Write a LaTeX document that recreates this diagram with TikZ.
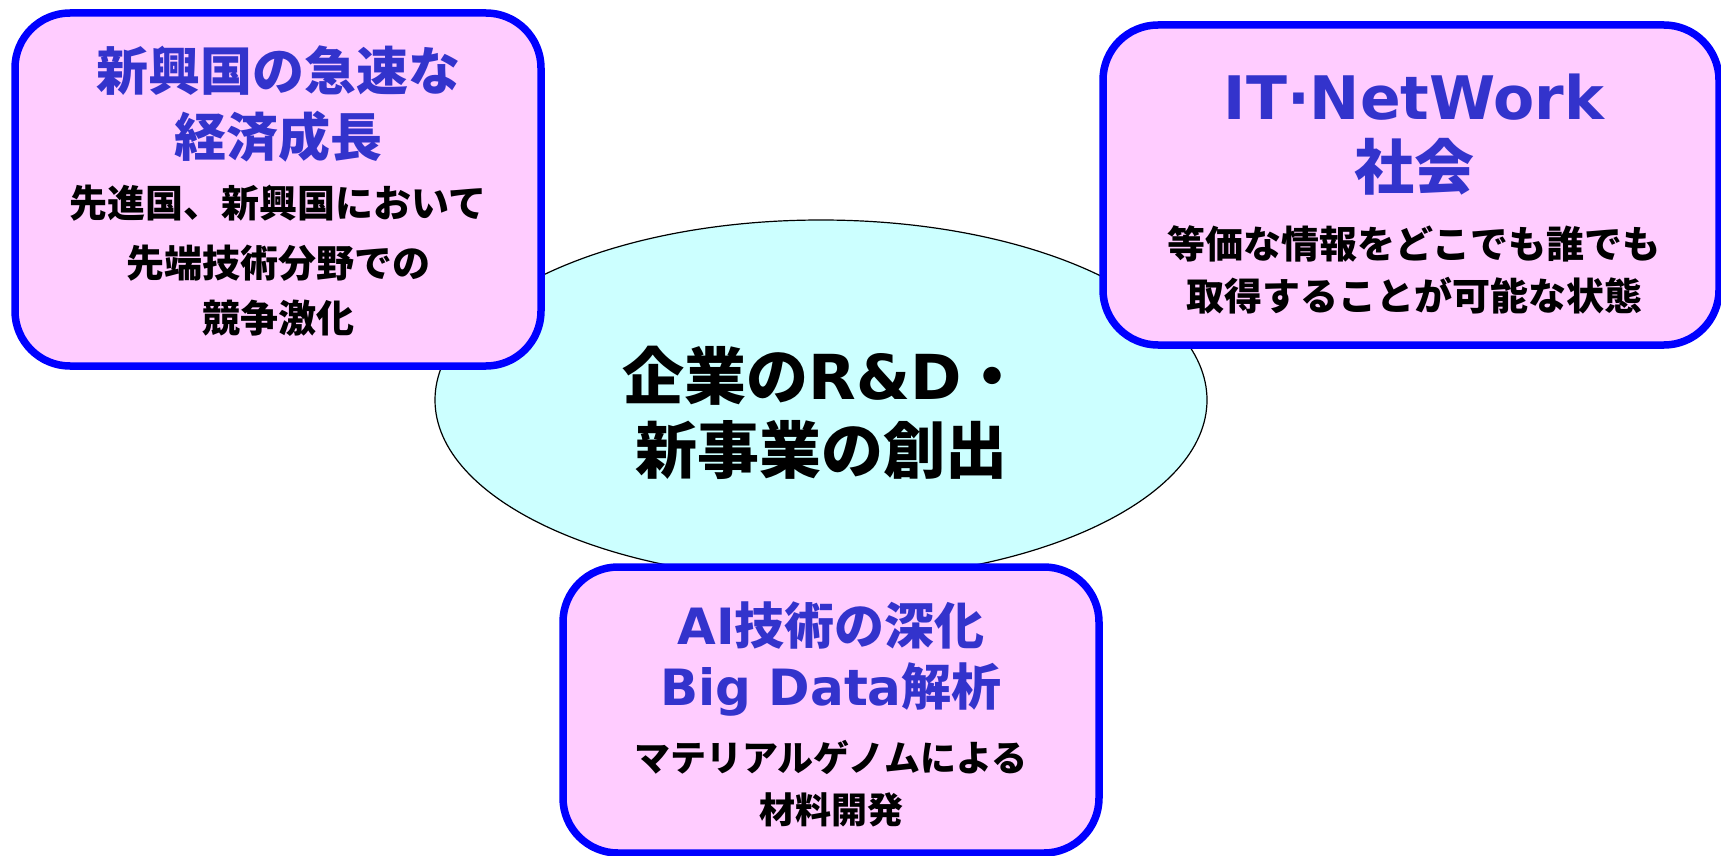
\documentclass[tikz,border=0pt]{standalone}
\usepackage{fontspec}
\setmainfont{Noto Sans CJK JP}
\newfontfamily\latin{DejaVu Sans}
\usetikzlibrary{shapes.geometric}
\definecolor{boxfill}{RGB}{255,204,255}
\definecolor{boxline}{RGB}{0,0,255}
\definecolor{titleblue}{RGB}{51,51,204}
\definecolor{coreFill}{RGB}{204,255,255}
\tikzset{
  panel/.style={draw=boxline, line width=7.5pt, fill=boxfill, rounded corners=55pt},
  core/.style={ellipse, draw=black, line width=1.2pt, fill=coreFill, inner sep=0pt},
  ttl/.style={text=titleblue, inner sep=0pt, font=\bfseries\fontsize{#1}{#1}\selectfont},
  ttl/.default=52,
  body/.style={text=black, inner sep=0pt, font=\bfseries\fontsize{#1}{#1}\selectfont},
  body/.default=38,
}
\begin{document}
\begin{tikzpicture}[x=1pt,y=-1pt]
\useasboundingbox (0,0) rectangle (1721,856);

% central theme
\node[core, minimum width=772pt, minimum height=360pt] (center) at (821,400) {};
\node[body=62] (c1) at (823,376) {企業の{\latin R\&D}・};
\node[body=62] (c2) at (821,450) {新事業の創出};

% upper left: emerging economies
\draw[panel] (15,13) rectangle (541,366);
\node[ttl] (tl1) at (278,71) {新興国の急速な};
\node[ttl] (tl2) at (278,137) {経済成長};
\node[body] (tl3) at (278,203) {先進国、新興国において};
\node[body] (tl4) at (278,263) {先端技術分野での};
\node[body] (tl5) at (278,318) {競争激化};

% upper right: networked society
\draw[panel] (1103,25) rectangle (1719,345);
\node[ttl=60] (tr1) at (1414,97) {\latin IT·NetWork};
\node[ttl=60] (tr2) at (1414,167) {社会};
\node[body] (tr3) at (1414,244) {等価な情報をどこでも誰でも};
\node[body] (tr4) at (1414,296) {取得することが可能な状態};

% bottom: AI and big data
\draw[panel] (563,567) rectangle (1099,853);
\node[ttl=50] (b1) at (831,626) {{\latin AI}技術の深化};
\node[ttl=50] (b2) at (831,689) {{\latin Big Data}解析};
\node[body=36] (b3) at (831,757) {マテリアルゲノムによる};
\node[body=36] (b4) at (831,810) {材料開発};
\end{tikzpicture}
\end{document}
